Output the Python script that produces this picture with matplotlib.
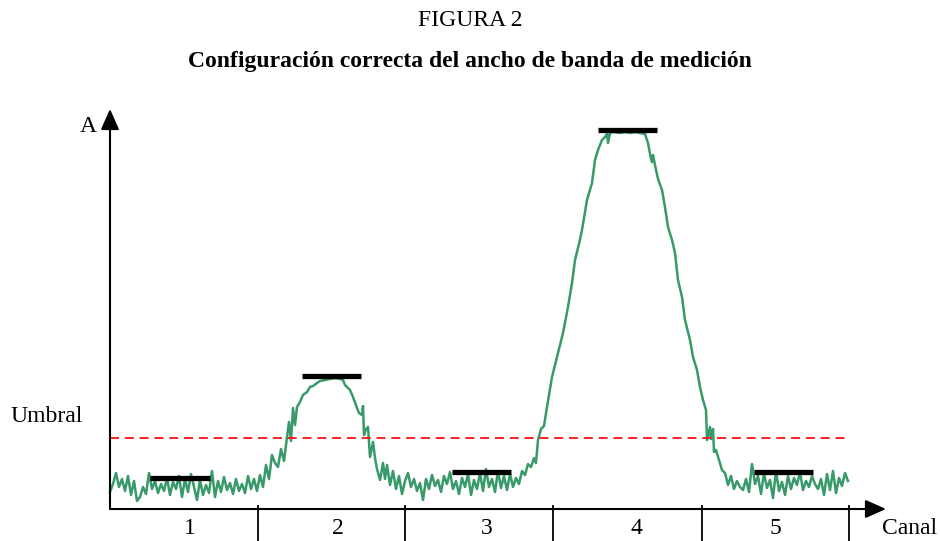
import numpy as np
import matplotlib.pyplot as plt

plt.rcParams['font.family'] = ['Liberation Serif', 'DejaVu Serif']

# measured signal (x along the channel axis, y = amplitude)
sig_x = [0, 3, 6, 9, 12, 15, 18, 21, 24, 27, 30, 33, 36, 39, 42, 45, 48, 51, 54, 57,
         60, 63, 66, 69, 72, 75, 78, 81, 84, 87, 90, 93, 96, 99, 102, 105, 108, 111, 114, 117,
         120, 123, 126, 129, 132, 135, 138, 141, 144, 147, 150, 153, 156, 159, 162, 165, 168, 171, 174, 177,
         179, 181, 183, 185, 187, 190, 193, 197, 200, 203, 207, 210, 215, 220, 225, 230, 233, 235, 240, 243,
         247, 249, 252, 253, 254, 256, 258, 260, 263, 265, 267, 270, 273, 275, 277, 280, 283, 286, 289, 292,
         295, 298, 301, 304, 307, 310, 313, 316, 319, 322, 325, 328, 331, 334, 337, 340, 343, 346, 349, 352,
         355, 358, 361, 364, 367, 370, 373, 376, 379, 382, 385, 388, 391, 394, 397, 400, 403, 406, 409, 412,
         415, 418, 421, 424, 426, 428, 431, 434, 437, 442, 448, 453, 458, 462, 465, 469, 472, 477, 482, 485,
         488, 492, 495, 497, 498, 500, 503, 510, 515, 520, 525, 530, 535, 538, 541, 542, 543, 545, 548, 552,
         555, 558, 562, 565, 568, 572, 575, 580, 583, 587, 590, 593, 596, 597, 599, 600, 601, 603, 604, 606,
         609, 612, 615, 618, 621, 624, 627, 630, 633, 636, 639, 642, 645, 648, 651, 654, 657, 660, 663, 666,
         669, 672, 675, 678, 681, 684, 687, 690, 693, 696, 699, 702, 705, 708, 711, 714, 717, 720, 723, 726,
         729, 732, 735, 738]
sig_y = [17, 25, 36, 22, 30, 18, 33, 14, 28, 8, 12, 22, 15, 36, 20, 28, 16, 25, 18, 31,
         14, 27, 20, 33, 12, 30, 17, 35, 22, 9, 29, 14, 24, 16, 38, 12, 28, 17, 32, 19,
         26, 15, 30, 18, 25, 16, 33, 20, 30, 18, 34, 22, 44, 30, 54, 46, 42, 60, 48, 72,
         87, 68, 101, 84, 102, 107, 114, 117, 122, 123, 126, 128, 129, 130, 131, 130, 129, 124, 119, 112,
         101, 96, 94, 103, 74, 80, 82, 52, 67, 51, 40, 29, 46, 30, 44, 24, 38, 20, 33, 15,
         28, 36, 22, 30, 18, 26, 9, 30, 20, 34, 23, 29, 17, 33, 25, 37, 20, 28, 15, 31,
         22, 35, 14, 29, 20, 36, 18, 40, 22, 30, 17, 38, 21, 33, 19, 35, 22, 31, 25, 38,
         34, 45, 42, 51, 46, 69, 80, 83, 102, 132, 156, 176, 202, 226, 249, 265, 279, 309, 326, 349,
         359, 369, 372, 375, 366, 376, 377, 376, 377, 376, 377, 376, 375, 366, 350, 347, 354, 344, 330, 319,
         302, 282, 269, 256, 229, 212, 189, 169, 152, 139, 122, 109, 99, 69, 78, 82, 70, 80, 57, 59,
         49, 39, 36, 24, 33, 20, 28, 22, 19, 30, 17, 45, 25, 33, 15, 36, 21, 29, 11, 38,
         18, 27, 14, 33, 20, 31, 24, 37, 19, 28, 22, 33, 25, 20, 30, 14, 35, 19, 38, 16,
         31, 23, 36, 28]

umbral = 71
channels = ['1', '2', '3', '4', '5']
borders = [148, 295, 443, 592, 739]
label_x = [80, 228, 377, 526, 665]
level_x0 = [40, 192, 342, 488, 644]
level_x1 = [100, 251, 401, 547, 703]
level_y = [31, 133, 37, 379, 37]

fig = plt.figure(figsize=(9.4, 5.41), dpi=100)
ax = fig.add_axes([110 / 940, 32 / 541, 739 / 940, 400 / 541])
ax.set_xlim(0, 739)
ax.set_ylim(0, 400)
ax.axis('off')

fig.text(0.5, 1 - 21 / 541, 'FIGURA 2', ha='center', va='center', fontsize=17)
fig.text(0.5, 1 - 62 / 541, 'Configuración correcta del ancho de banda de medición',
         ha='center', va='center', fontsize=17, fontweight='bold')

# signal and threshold
ax.plot(sig_x, sig_y, color='#379a68', lw=1.8, clip_on=False, zorder=2)
ax.plot([0, 739], [umbral, umbral], color='#ff1010', lw=1.3, dashes=(5, 3.2), zorder=3)
ax.hlines(level_y, level_x0, level_x1, color='black', lw=3.8, zorder=4)

# axes with arrows
arr = dict(arrowstyle='-|>,head_length=0.45,head_width=0.2', mutation_scale=28,
           lw=1.5, color='black', shrinkA=0, shrinkB=0)
ax.annotate('', xy=(0, 400), xytext=(0, 0), arrowprops=arr, annotation_clip=False)
ax.annotate('', xy=(776, 0), xytext=(0, 0), arrowprops=arr, annotation_clip=False)

ax.vlines(borders, -35, 4, color='black', lw=1.3, clip_on=False)
for x, c in zip(label_x, channels):
    ax.text(x, -20, c, ha='center', va='center', fontsize=17)

ax.text(-22, 382, 'A', ha='center', va='center', fontsize=17)
ax.text(-100, 92, 'Umbral', ha='left', va='center', fontsize=17)
ax.text(772, -20, 'Canal', ha='left', va='center', fontsize=17)

fig.savefig('out.png', dpi=100)
